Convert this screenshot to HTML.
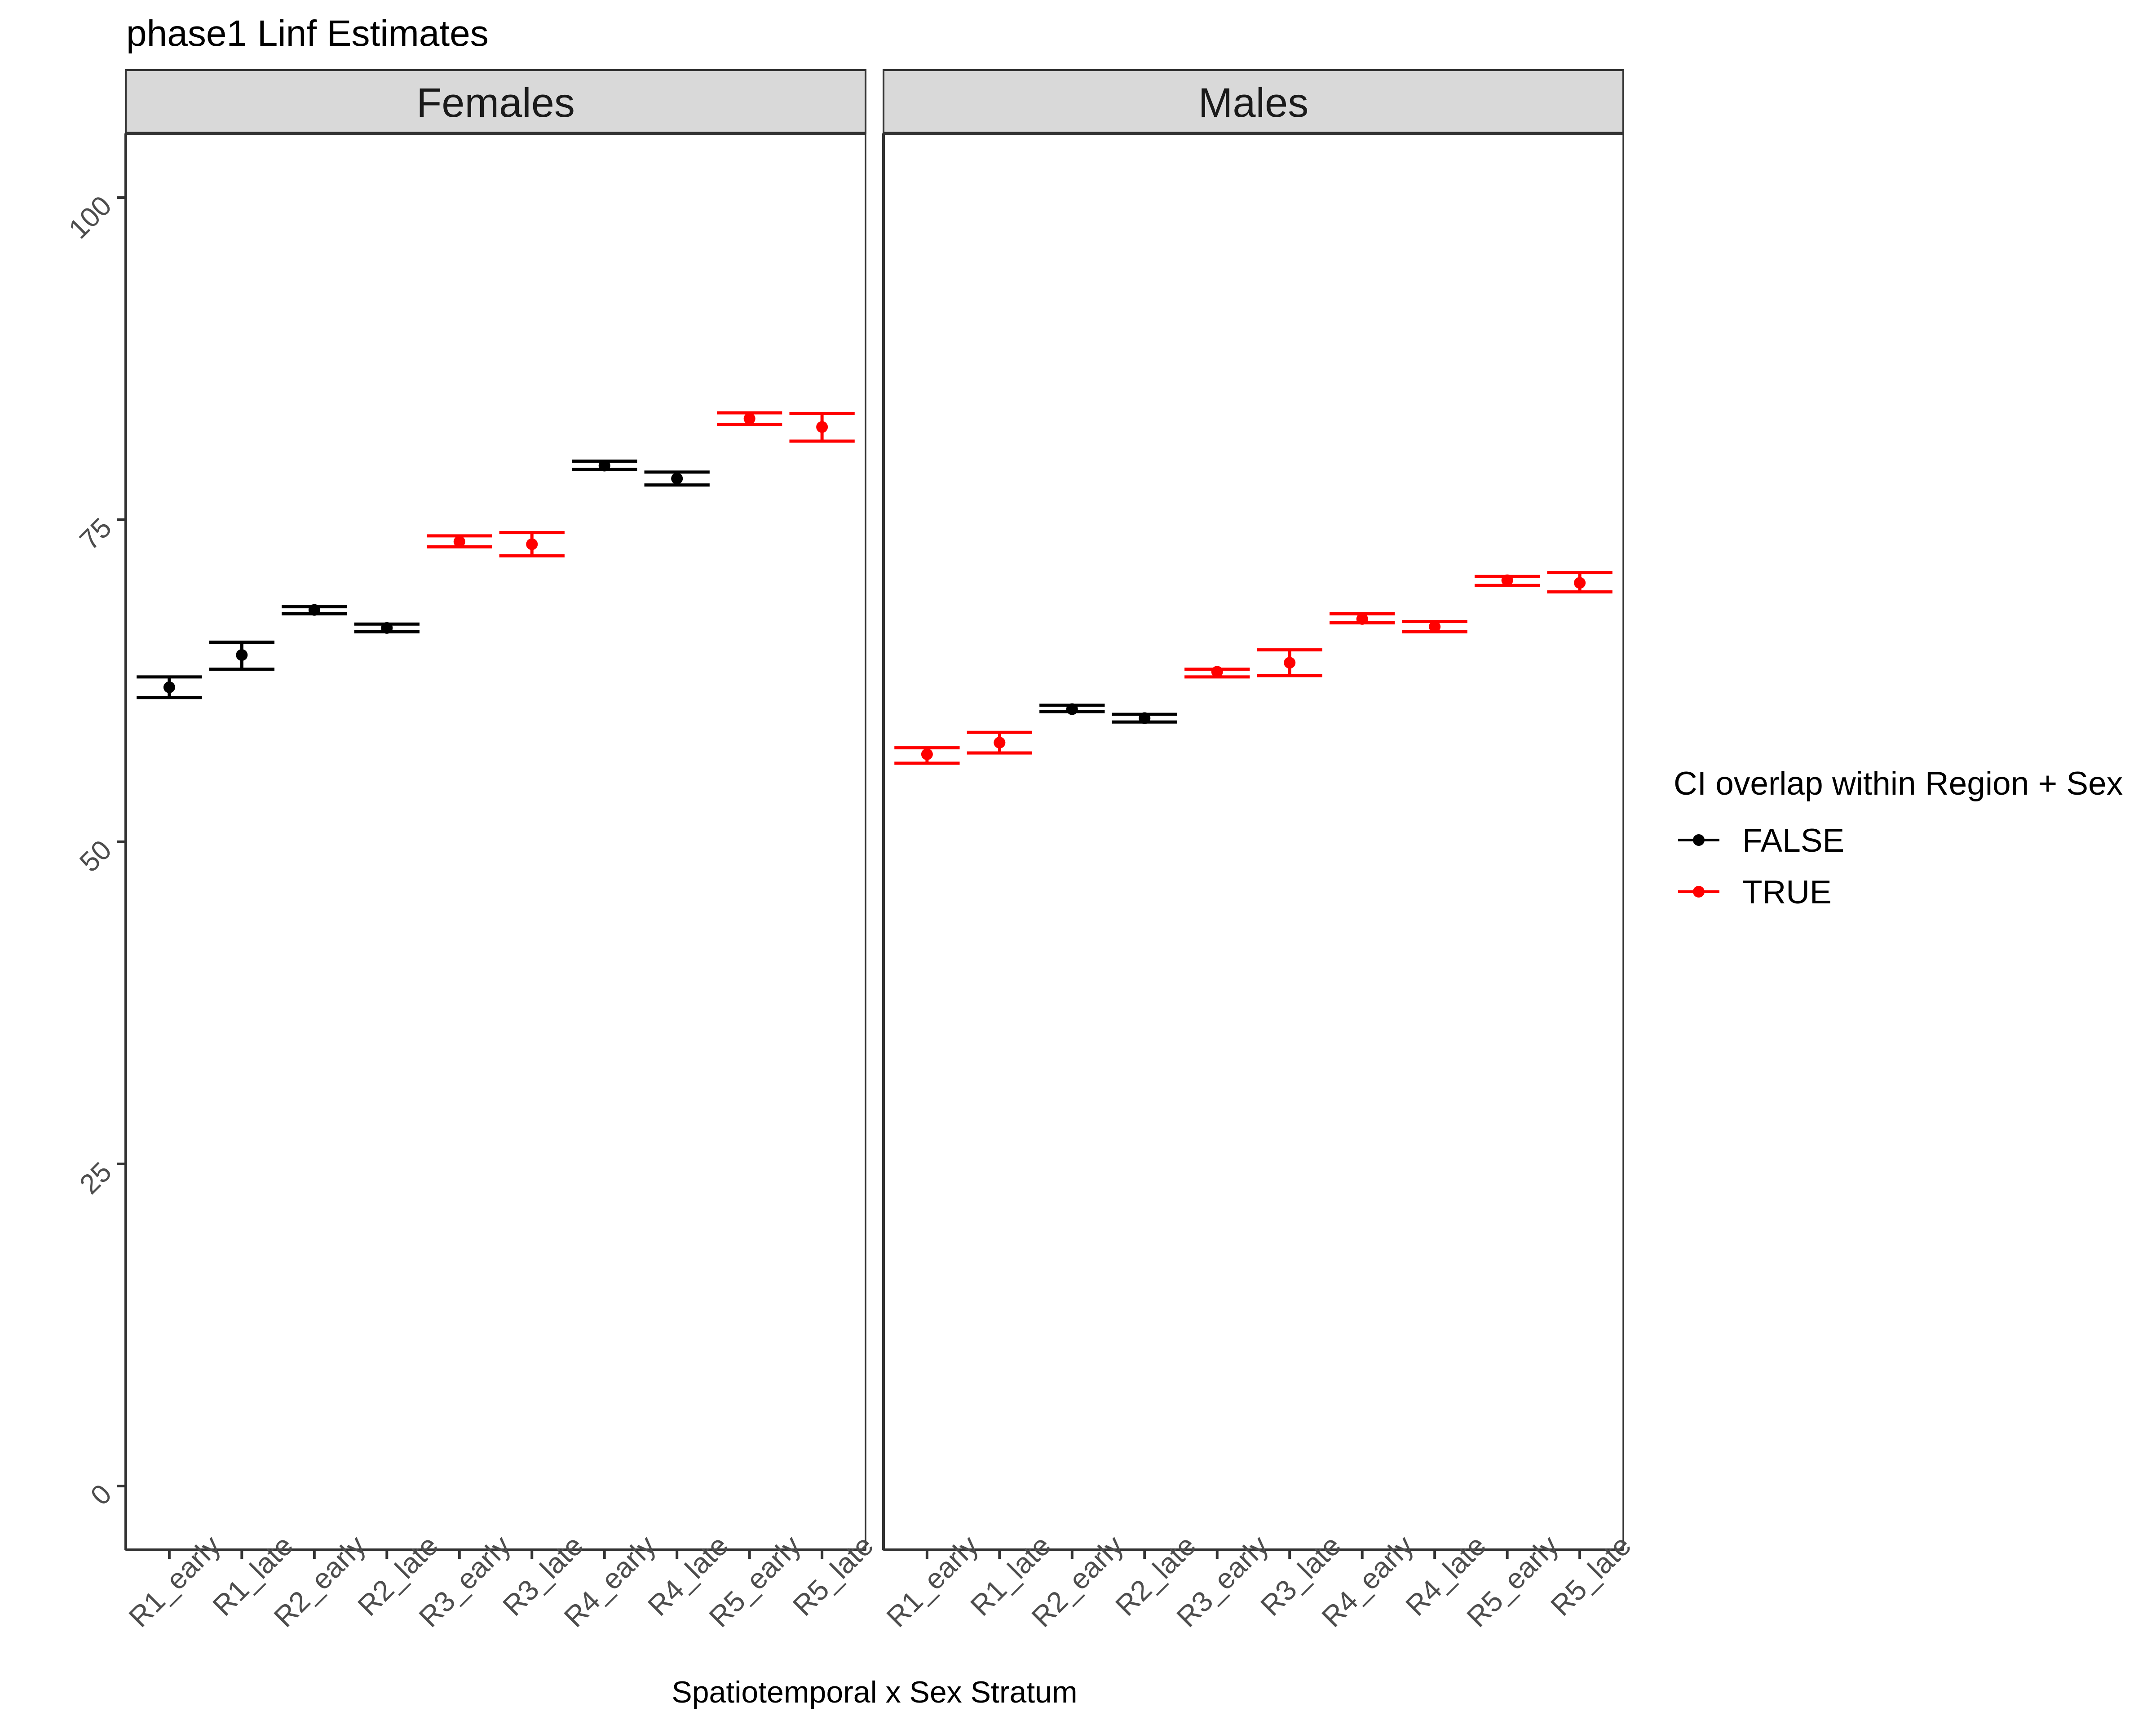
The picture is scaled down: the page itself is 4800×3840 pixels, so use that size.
<!DOCTYPE html>
<html><head><meta charset="utf-8"><style>
html,body{margin:0;padding:0;background:#fff;}
svg{display:block;font-family:"Liberation Sans",Arial,sans-serif;}
</style></head><body>
<svg id="chart" width="4800" height="3840" viewBox="0 0 4800 3840" xmlns="http://www.w3.org/2000/svg">
<rect width="4800" height="3840" fill="#fff"/>
<text x="281" y="102" font-size="82" fill="#000">phase1 Linf Estimates</text>
<text x="1947" y="3790" font-size="68" text-anchor="middle" fill="#000">Spatiotemporal x Sex Stratum</text>
<g>
<text x="3726" y="1769" font-size="73" fill="#000">CI overlap within Region + Sex</text>
<g>
<line x1="3736" y1="1870" x2="3828" y2="1870" stroke="#000" stroke-width="6"/>
<circle cx="3782" cy="1870" r="13" fill="#000"/>
<text x="3879" y="1896" font-size="73" fill="#000">FALSE</text>
</g>
<g>
<line x1="3736" y1="1985" x2="3828" y2="1985" stroke="#ff0000" stroke-width="6"/>
<circle cx="3782" cy="1985" r="13" fill="#ff0000"/>
<text x="3879" y="2011" font-size="73" fill="#000">TRUE</text>
</g>
</g>
<g id="plots"></g>
</svg>
<script>
const categories = ["R1_early","R1_late","R2_early","R2_late","R3_early","R3_late","R4_early","R4_late","R5_early","R5_late"];
const yTicks = [0,25,50,75,100];
const femEst = [62.0,64.5,68.0,66.6,73.3,73.1,79.2,78.2,82.85,82.2];
const femLo  = [61.2,63.4,67.7,66.3,72.9,72.2,78.9,77.7,82.4,81.1];
const femHi  = [62.8,65.5,68.25,66.9,73.75,74.0,79.55,78.7,83.3,83.25];
const femOverlap = [false,false,false,false,true,true,false,false,true,true];
const maleEst = [56.8,57.7,60.3,59.6,63.2,63.9,67.3,66.7,70.3,70.1];
const maleLo  = [56.1,56.9,60.1,59.3,62.8,62.9,67.0,66.3,69.9,69.4];
const maleHi  = [57.3,58.5,60.6,59.9,63.4,64.9,67.7,67.1,70.6,70.9];
const maleOverlap = [true,true,false,false,true,true,true,true,true,true];

const NS="http://www.w3.org/2000/svg";
const plotRoot=document.getElementById('plots');
function el(tag,attrs,parent){const e=document.createElementNS(NS,tag);for(const k in attrs)e.setAttribute(k,attrs[k]);(parent||plotRoot).appendChild(e);return e;}
const plotTop=297, plotBottom=3450;
function yScale(v){return 3308-(3308-440)*v/100;}
const panels=[
 {name:"females",label:"Females",x0:280,x1:1927,est:femEst,lo:femLo,hi:femHi,ov:femOverlap,yaxis:true},
 {name:"males",label:"Males",x0:1967,x1:3614,est:maleEst,lo:maleLo,hi:maleHi,ov:maleOverlap,yaxis:false}
];
panels.forEach(p=>{
  const g=el('g',{});
  
  
  const band=(p.x1-p.x0)/(categories.length+0.2);
  const xScale=i=>p.x0+band*(0.6+i);
  const s=el('rect',{x:p.x0,y:156,width:p.x1-p.x0,height:plotTop-156,fill:'#d9d9d9',stroke:'#333',"stroke-width":4},g);
  
  
  el('line',{x1:p.x0,y1:plotTop,x2:p.x1,y2:plotTop,stroke:'#333',"stroke-width":7},g);
  const st=el('text',{x:(p.x0+p.x1)/2,y:260,"font-size":92,"text-anchor":"middle",fill:'#1a1a1a'},g);
  st.textContent=p.label;
  
  
  el('rect',{x:p.x0,y:plotTop,width:p.x1-p.x0,height:plotBottom-plotTop,fill:'none',stroke:'#333',"stroke-width":3.5},g);
  el('line',{x1:p.x0,y1:plotBottom,x2:p.x1,y2:plotBottom,stroke:'#333',"stroke-width":6},g);
  el('line',{x1:p.x0,y1:plotTop,x2:p.x0,y2:plotBottom,stroke:'#333',"stroke-width":6},g);
  if(p.yaxis){
    yTicks.forEach(t=>{
      const y=yScale(t);
      el('line',{x1:p.x0-20,y1:y,x2:p.x0,y2:y,stroke:'#333',"stroke-width":6},g);
      const tx=el('text',{x:p.x0-28,y:y+22,"font-size":62,"text-anchor":"end",fill:'#4d4d4d',transform:`rotate(-45 ${p.x0-28} ${y+22})`},g);
      tx.textContent=t;
      
      
    });
  }
  categories.forEach((c,i)=>{
    const x=xScale(i);
    el('line',{x1:x,y1:plotBottom,x2:x,y2:plotBottom+20,stroke:'#333',"stroke-width":6},g);
    const ax=x+118, ay=plotBottom-5;
    const tl=el('text',{x:ax,y:ay,"font-size":64,"text-anchor":"end",fill:'#4d4d4d',transform:`rotate(-45 ${ax} ${ay})`},g);
    tl.textContent=c;
    
    
    const col=p.ov[i]?'#ff0000':'#000';
    const eb=el('g',{stroke:col,"stroke-width":7},g);
    
    
    const hw=band*0.45;
    el('line',{x1:x-hw,y1:yScale(p.hi[i]),x2:x+hw,y2:yScale(p.hi[i])},eb);
    el('line',{x1:x-hw,y1:yScale(p.lo[i]),x2:x+hw,y2:yScale(p.lo[i])},eb);
    el('line',{x1:x,y1:yScale(p.hi[i]),x2:x,y2:yScale(p.lo[i])},eb);
    const pt=el('circle',{cx:x,cy:yScale(p.est[i]),r:13,fill:col},g);
    
    
  });
});
</script>
</body></html>
